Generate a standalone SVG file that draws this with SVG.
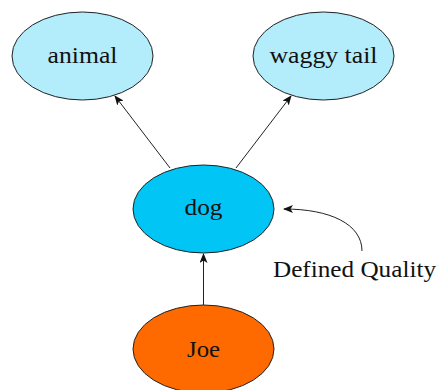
<svg xmlns="http://www.w3.org/2000/svg" width="438" height="390" viewBox="0 0 438 390">
<style>
.n{stroke:#222;stroke-width:1}
.t{font-family:"Liberation Serif",serif;font-size:24px;fill:#111;text-anchor:middle}
.c{fill:none;stroke:#222;stroke-width:1;marker-end:url(#ah)}
</style>
<defs>
<marker id="ah" viewBox="0 0 10 8" refX="9" refY="4" markerWidth="10" markerHeight="8" markerUnits="userSpaceOnUse" orient="auto">
<path d="M0,0 L10,4 L0,8 L2.5,4 Z" fill="#111"/>
</marker>
</defs>
<g id="connectors">
<line class="c" x1="170" y1="168" x2="115" y2="96"/>
<line class="c" x1="236" y1="168" x2="291" y2="96"/>
<line class="c" x1="203.5" y1="305" x2="203.5" y2="254"/>
<path class="c" d="M362,251 C362,224 330,209 284,209"/>
</g>
<g id="animal"><ellipse class="n" cx="82.5" cy="56" rx="70.5" ry="44" fill="#b3ecfb"/><text class="t" x="82.5" y="63" textLength="70" lengthAdjust="spacingAndGlyphs">animal</text></g>
<g id="waggy-tail"><ellipse class="n" cx="323.5" cy="56" rx="70.5" ry="44" fill="#b3ecfb"/><text class="t" x="323.5" y="63" textLength="108" lengthAdjust="spacingAndGlyphs">waggy tail</text></g>
<g id="dog"><ellipse class="n" cx="203.5" cy="209" rx="70.5" ry="44" fill="#00c5f5"/><text class="t" x="203.5" y="215" textLength="38" lengthAdjust="spacingAndGlyphs">dog</text></g>
<g id="joe"><ellipse class="n" cx="203.5" cy="349" rx="70.5" ry="44" fill="#ff6a00"/><text class="t" x="203.5" y="357" textLength="33" lengthAdjust="spacingAndGlyphs">Joe</text></g>
<g id="label"><text class="t" x="354.5" y="277" textLength="163" lengthAdjust="spacingAndGlyphs">Defined Quality</text></g>
</svg>
